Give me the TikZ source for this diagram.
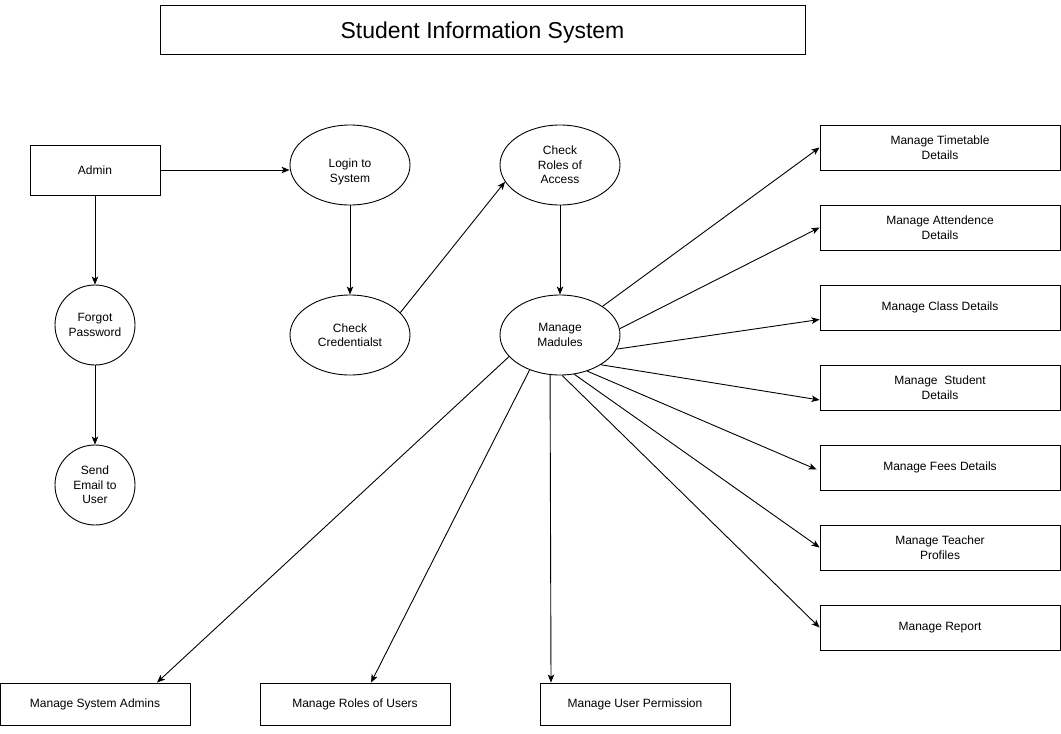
\documentclass[tikz,border=0pt]{standalone}
\usepackage{fontspec}
\setmainfont{Liberation Sans}
\usetikzlibrary{shapes.geometric,positioning,arrows.meta}

\begin{document}
\begin{tikzpicture}[
    x=1pt, y=-1pt,
    box/.style={draw, line width=0.9pt, minimum width=240pt, minimum height=45pt, inner sep=2pt, align=center, font=\fontsize{12}{14.5}\selectfont},
    lowbox/.style={box, minimum width=190pt, minimum height=42pt},
    proc/.style={draw, ellipse, line width=0.9pt, minimum width=120pt, minimum height=80pt, inner sep=0pt, align=center, font=\fontsize{12}{14.5}\selectfont},
    round/.style={draw, circle, line width=0.9pt, minimum size=80pt, inner sep=0pt, align=center, font=\fontsize{12}{14.5}\selectfont},
    arrow/.style={-{Stealth[length=8pt,width=6.5pt,inset=2pt]}, line width=0.9pt}
]
\useasboundingbox (0,0) rectangle (1061,734);

% Title
\node[box, minimum width=645pt, minimum height=49pt, text height=23pt, font=\fontsize{23}{27}\selectfont] (title) at (482.5,29.5) {Student Information System};

% Admin side
\node[box, minimum width=130pt, minimum height=50pt] (admin) at (95,170) {Admin};
\node[round] (forgot) at (95,325) {Forgot\\Password};
\node[round] (email) at (95,485) {Send\\Email to\\User};

% Login flow
\node[proc, text height=37pt] (login) at (350,165) {Login to\\System};
\node[proc] (cred) at (350,335) {Check\\Credentialst};
\node[proc] (roles) at (560,165) {Check\\Roles of\\Access};
\node[proc] (modules) at (560,335) {Manage\\Madules};

% Modules - right column
\node[box] (timetable) at (940,147.5) {Manage Timetable\\Details};
\node[box, below=34.1pt of timetable] (attend) {Manage Attendence\\Details};
\node[box, below=34.1pt of attend] (class) {Manage Class Details};
\node[box, below=34.1pt of class] (student) {Manage \ Student\\Details};
\node[box, below=34.1pt of student] (fees) {Manage Fees Details};
\node[box, below=34.1pt of fees] (teacher) {Manage Teacher\\Profiles};
\node[box, below=34.1pt of teacher] (report) {Manage Report};

% Modules - bottom row
\node[lowbox] (sysadmin) at (95,704) {Manage System Admins};
\node[lowbox] (userroles) at (355,704) {Manage Roles of Users};
\node[lowbox] (perm) at (635,704) {Manage User Permission};

% Admin arrows
\draw[arrow] (admin.east) -- (login.west |- admin.east);
\draw[arrow] (admin) -- (forgot);
\draw[arrow] (forgot) -- (email);

% Login flow arrows
\draw[arrow] (login) -- (cred);
\draw[arrow] (cred.24) -- (roles.197);
\draw[arrow] (roles) -- (modules);

% Fan out to right column
\draw[arrow] (modules.34) -- (timetable.west);
\draw[arrow] (modules.6) -- (attend.west);
\draw[arrow] (modules.-14) -- ([yshift=-12pt]class.west);
\draw[arrow] (modules.-36) -- ([yshift=-12.5pt]student.west);
\draw[arrow] (modules.-53) -- ([xshift=-3pt,yshift=-2pt]fees.west);
\draw[arrow] (modules.-70) -- (teacher.west);
\draw[arrow] (modules.-87) -- (report.west);

% Fan out to bottom row
\draw[arrow] (modules.-157) -- ([xshift=62pt]sysadmin.north);
\draw[arrow] (modules.-131) -- ([xshift=16pt]userroles.north);
\draw[arrow] (modules.-104) -- ([xshift=-84pt]perm.north);

\end{tikzpicture}
\end{document}
